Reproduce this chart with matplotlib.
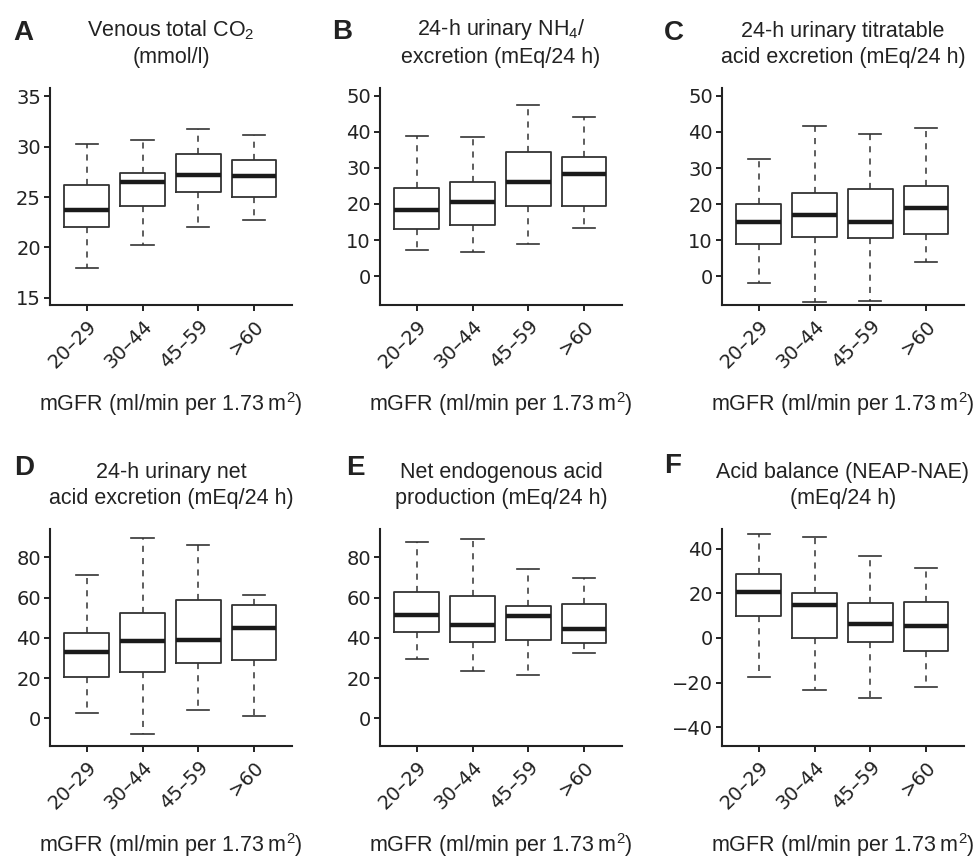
import numpy as np
import matplotlib
matplotlib.use("Agg")
import matplotlib.pyplot as plt
import matplotlib.transforms as mtrans

plt.rcParams['font.family'] = ['Liberation Sans', 'DejaVu Sans']
plt.rcParams['mathtext.default'] = 'regular'

groups = ["20\u201329", "30\u201344", "45\u201359", ">60"]
xlabel = "mGFR (ml/min per 1.73\u2009m$^{2}$)"

# A: venous total CO2
A_lo = [18.0, 20.2, 22.0, 22.7]
A_q1 = [22.0, 24.1, 25.5, 25.0]
A_med = [23.7, 26.5, 27.2, 27.1]
A_q3 = [26.2, 27.4, 29.3, 28.7]
A_hi = [30.3, 30.6, 31.7, 31.1]

# B: urinary NH4 excretion
B_lo = [7.2, 6.6, 9.0, 13.3]
B_q1 = [13.0, 14.1, 19.3, 19.3]
B_med = [18.3, 20.5, 26.2, 28.2]
B_q3 = [24.3, 26.2, 34.5, 32.9]
B_hi = [38.9, 38.5, 47.4, 44.1]

# C: titratable acid excretion
C_lo = [-1.8, -7.1, -6.8, 3.8]
C_q1 = [9.0, 10.8, 10.6, 11.6]
C_med = [14.9, 16.9, 14.9, 19.0]
C_q3 = [20.1, 23.2, 24.2, 25.0]
C_hi = [32.4, 41.6, 39.4, 41.1]

# D: net acid excretion
D_lo = [2.5, -7.8, 4.1, 1.2]
D_q1 = [20.4, 23.2, 27.4, 29.0]
D_med = [32.9, 38.2, 38.7, 45.0]
D_q3 = [42.3, 52.3, 58.9, 56.3]
D_hi = [71.4, 89.6, 86.0, 61.4]

# E: net endogenous acid production
E_lo = [29.4, 23.7, 21.4, 32.4]
E_q1 = [42.7, 37.8, 38.8, 37.2]
E_med = [51.5, 46.3, 50.8, 44.3]
E_q3 = [62.6, 60.6, 55.9, 56.8]
E_hi = [87.5, 89.1, 74.0, 69.9]

# F: acid balance
F_lo = [-17.4, -23.2, -27.0, -22.0]
F_q1 = [9.8, -0.2, -1.9, -5.9]
F_med = [20.7, 14.7, 6.4, 5.2]
F_q3 = [28.8, 20.0, 15.5, 15.9]
F_hi = [46.7, 45.2, 36.8, 31.3]

panels = [
    ("A", "Venous total CO$_{2}$\n(mmol/l)", (A_lo, A_q1, A_med, A_q3, A_hi),
     (14.3, 35.8), [15, 20, 25, 30, 35]),
    ("B", "24-h urinary NH$_{4}$/\nexcretion (mEq/24 h)", (B_lo, B_q1, B_med, B_q3, B_hi),
     (-8.0, 52.1), [0, 10, 20, 30, 40, 50]),
    ("C", "24-h urinary titratable\nacid excretion (mEq/24 h)", (C_lo, C_q1, C_med, C_q3, C_hi),
     (-8.0, 52.2), [0, 10, 20, 30, 40, 50]),
    ("D", "24-h urinary net\nacid excretion (mEq/24 h)", (D_lo, D_q1, D_med, D_q3, D_hi),
     (-13.8, 94.1), [0, 20, 40, 60, 80]),
    ("E", "Net endogenous acid\nproduction (mEq/24 h)", (E_lo, E_q1, E_med, E_q3, E_hi),
     (-13.8, 94.1), [0, 20, 40, 60, 80]),
    ("F", "Acid balance (NEAP-NAE)\n(mEq/24 h)", (F_lo, F_q1, F_med, F_q3, F_hi),
     (-48.4, 48.8), [-40, -20, 0, 20, 40]),
]

W, H = 974, 857
fig = plt.figure(figsize=(W / 100, H / 100), dpi=100)

lefts = [50, 380, 722]
bottoms = [305, 746]
ax_w, ax_h = 242, 217
letter_pos = [(13, 40), (332, 39), (664, 40), (14, 475), (346, 475), (664, 473)]
tick_font = ['DejaVu Sans']
shift = mtrans.ScaledTranslation(5 / 72, 0, fig.dpi_scale_trans)

for k, (letter, title, stats, ylim, yticks) in enumerate(panels):
    row, col = divmod(k, 3)
    ax = fig.add_axes([lefts[col] / W, 1 - bottoms[row] / H, ax_w / W, ax_h / H])
    lo, q1, med, q3, hi = stats
    bstats = [dict(whislo=lo[i], q1=q1[i], med=med[i], q3=q3[i], whishi=hi[i],
                   fliers=[], label=groups[i]) for i in range(len(groups))]
    ax.bxp(bstats, positions=[1, 2, 3, 4], widths=0.8, showfliers=False,
           boxprops=dict(color="#333333", linewidth=1.3),
           whiskerprops=dict(color="#333333", linewidth=1.1, linestyle=(0, (4, 4))),
           capprops=dict(color="#333333", linewidth=1.2),
           medianprops=dict(color="#1a1a1a", linewidth=3.2, solid_capstyle="butt"))
    ax.set_xlim(0.34, 4.68)
    ax.set_ylim(*ylim)
    ax.set_yticks(yticks)
    ax.set_xticks([1, 2, 3, 4])
    ax.set_xticklabels(groups, rotation=45, ha="right", va="center", rotation_mode="anchor")
    for s in ("top", "right"):
        ax.spines[s].set_visible(False)
    for s in ("left", "bottom"):
        ax.spines[s].set_linewidth(1.5)
        ax.spines[s].set_color("#222222")
    ax.tick_params(axis="both", direction="out", length=4, width=1.4,
                   color="#222222", labelsize=14, labelcolor="#222222")
    ax.tick_params(axis="y", pad=2.5)
    ax.tick_params(axis="x", pad=9)
    for lab in ax.get_xticklabels() + ax.get_yticklabels():
        lab.set_family(tick_font)
    for lab in ax.get_xticklabels():
        lab.set_transform(lab.get_transform() + shift)
    ax.set_title(title, fontsize=15.5, color="#222222", pad=18, linespacing=1.3)
    ax.set_xlabel(xlabel, fontsize=15.5, color="#222222", va="center")
    ax.xaxis.set_label_coords(0.5, -0.455)
    fig.text(letter_pos[k][0] / W, 1 - letter_pos[k][1] / H, letter,
             fontsize=20, fontweight="bold", color="#222222", va="baseline")

fig.savefig("out.png", dpi=100)
